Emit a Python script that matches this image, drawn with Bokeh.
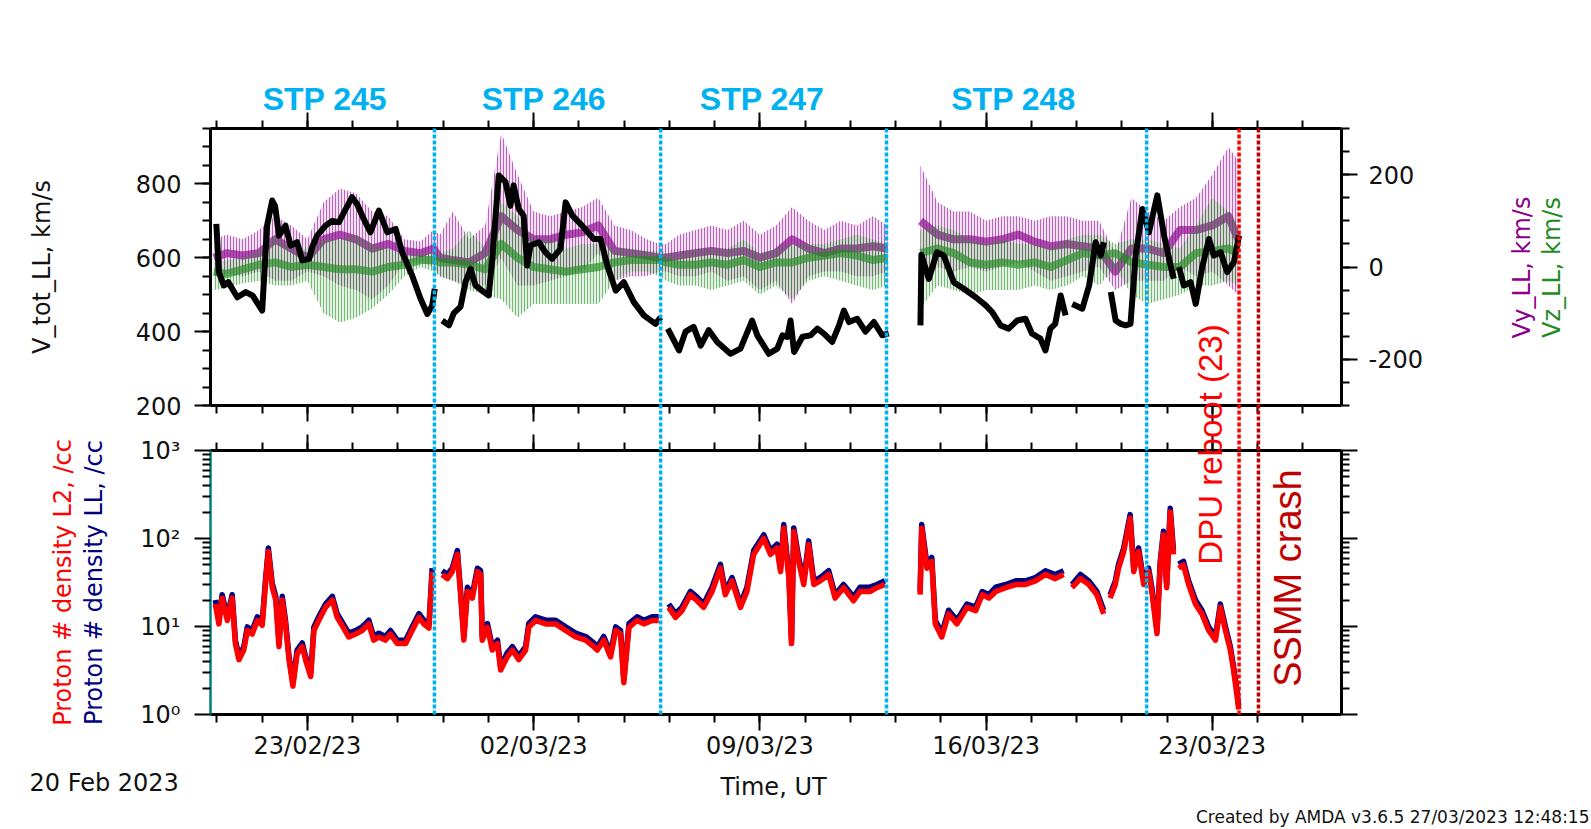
import math
from datetime import datetime, timezone
from bokeh.plotting import figure
from bokeh.layouts import column
from bokeh.models import (Range1d, LinearAxis, LogAxis, FixedTicker, Label, Title,
                          LogScale, CustomJSTickFormatter)
from bokeh.embed import file_html
from bokeh.resources import INLINE

nan = float("nan")

# ---------------- data ----------------
start_date = datetime(2023, 2, 20, tzinfo=timezone.utc)
span_days = 35

# V_tot (km/s), black
vtot_days = [0.18, 0.26, 0.41, 0.55, 0.83, 1.09, 1.3, 1.6, 1.75, 1.91,
             2.0, 2.12, 2.32, 2.48, 2.68, 2.84, 3.05, 3.15, 3.3, 3.56,
             3.77, 3.97, 4.13, 4.38, 4.54, 4.74, 4.95, 5.21, 5.47, 5.73,
             5.93, 6.24, 6.5, 6.71, 6.86, 6.94, 7.05, 7.17, 7.38, 7.53,
             7.74, 7.89, 8.05, 8.2, 8.46, 8.61, 8.72, 8.92, 9.13, 9.28,
             9.38, 9.54, 9.69, 9.8, 9.9, 10.16, 10.36, 10.57, 10.83, 10.99,
             11.2, 11.5, 11.86, 12.07, 12.28, 12.54, 12.79, 13.1, 13.41, 13.77,
             13.93, 14.04, 14.15, 14.5, 14.7, 14.95, 15.17, 15.42, 15.68, 16.09,
             16.4, 16.76, 16.92, 17.28, 17.54, 17.7, 17.85, 17.95, 18.06, 18.32,
             18.57, 18.78, 18.99, 19.24, 19.45, 19.6, 19.76, 20.01, 20.27, 20.53,
             20.79, 20.99, 21.5, 21.97, 22.0, 22.23, 22.48, 22.69, 23.0, 23.31,
             23.68, 23.99, 24.19, 24.45, 24.7, 24.96, 25.22, 25.42, 25.68, 25.84,
             25.99, 26.14, 26.31, 26.46, 26.56, 26.67, 26.98, 27.19, 27.39, 27.55,
             27.65, 27.75, 27.86, 28.01, 28.17, 28.32, 28.47, 28.63, 28.84, 29.04,
             29.3, 29.51, 29.71, 29.81, 29.89, 29.97, 30.12, 30.33, 30.49, 30.69,
             30.9, 31.05, 31.26, 31.46, 31.67, 31.83]
vtot = [692, 561, 525, 534, 493, 507, 498, 457, 687, 755,
        740, 660, 687, 633, 642, 593, 597, 630, 660, 687,
        700, 696, 723, 764, 745, 705, 669, 728, 669, 678,
        615, 552, 489, 448, 470, 516, nan, 430, 417, 450,
        468, 534, 570, 525, 507, 498, 597, 823, 805, 741,
        796, 732, 714, 579, 633, 642, 615, 597, 624, 750,
        714, 687, 651, 651, 579, 511, 534, 480, 444, 421,
        439, nan, 408, 349, 400, 413, 362, 404, 372, 340,
        354, 430, 390, 340, 354, 390, 386, 430, 345, 386,
        390, 408, 394, 372, 417, 457, 426, 435, 400, 426,
        390, 395, nan, 417, 608, 543, 615, 606, 534, 516,
        493, 471, 453, 417, 408, 430, 435, 395, 381, 349,
        408, 421, 498, 444, nan, 475, 462, 525, 642, 606,
        642, nan, 507, 430, 421, 417, 421, 606, 732, 669,
        769, 660, 579, 543, nan, 575, 525, 534, 475, 575,
        651, 606, 615, 561, 588, 660]

# Vy / Vz (km/s): dense core and extent of the scatter
vyz_days = [0.1, 0.5, 1.0, 1.5, 2.0, 2.5, 3.0, 3.5, 4.0, 4.5,
            5.0, 5.5, 6.0, 6.5, 6.9, 7.1, 7.5, 8.0, 8.5, 9.0,
            9.5, 10.0, 10.5, 11.0, 11.5, 12.0, 12.5, 13.0, 13.5, 13.9,
            14.1, 14.5, 15.0, 15.5, 16.0, 16.5, 17.0, 17.5, 18.0, 18.5,
            19.0, 19.5, 20.0, 20.5, 20.95, 21.4, 21.97, 22.5, 23.0, 23.5,
            24.0, 24.5, 25.0, 25.5, 26.0, 26.5, 27.0, 27.5, 28.0, 28.5,
            29.0, 29.5, 30.0, 30.5, 31.0, 31.5, 31.8]
vy_mid = [20, 30, 25, 30, 60, 40, 20, 60, 70, 60,
          40, 50, 35, 30, 40, 20, 15, 10, 30, 110,
          80, 60, 60, 70, 75, 90, 35, 30, 25, 20,
          20, 25, 30, 35, 30, 35, 20, 30, 60, 40,
          30, 40, 40, 45, 40, nan, 100, 70, 60, 60,
          55, 60, 70, 55, 45, 50, 45, 40, -10, 40,
          40, 30, 80, 80, 90, 110, 60]
vy_lo = [-20, -15, -20, -10, -30, -30, -10, -20, -40, -50,
         -70, -40, 10, 10, 0, -20, -30, -40, -40, 20,
         -40, -40, -30, -20, -10, 30, -30, -20, -20, -10,
         -10, -20, -20, -10, -30, -20, -50, -30, -80, -20,
         -10, -10, -20, -20, -10, nan, -40, 0, -10, 0,
         -10, 0, 10, -10, -30, -20, -10, 0, -50, -30,
         -30, -30, 0, -20, -10, -40, -60]
vy_hi = [60, 70, 60, 80, 110, 90, 60, 140, 170, 160,
         120, 110, 60, 55, 80, 70, 120, 60, 90, 290,
         200, 120, 110, 120, 130, 150, 90, 80, 60, 50,
         50, 70, 80, 90, 80, 100, 70, 90, 130, 100,
         80, 100, 90, 110, 90, nan, 220, 140, 120, 120,
         100, 110, 110, 100, 110, 110, 100, 100, 30, 150,
         120, 100, 130, 150, 200, 260, 230]
vz_mid = [-10, -15, -5, 5, 10, 0, 5, 0, -5, -5,
          -10, 0, 5, 15, 15, 10, 10, 5, -5, 50,
          20, 0, -5, -10, -5, 0, 10, 15, 15, 15,
          10, 5, 5, 10, 5, 15, 0, 10, 10, 20,
          25, 30, 25, 15, 20, nan, 30, 40, 30, 10,
          5, 10, 5, 10, 0, 15, 30, 25, 30, 10,
          5, 0, 0, 30, 35, 40, 30]
vz_lo = [-50, -45, -35, -30, -40, -40, -30, -100, -120, -110,
         -90, -60, -20, 0, -10, -20, -30, -50, -60, -70,
         -110, -80, -80, -80, -80, -80, -30, -10, -10, -20,
         -30, -40, -40, -50, -40, -30, -60, -40, -70, -30,
         -20, -30, -40, -50, -40, nan, -90, -40, -50, -60,
         -50, -50, -50, -40, -50, -40, -20, -40, 0, -60,
         -80, -70, -60, -40, -40, -30, -40]
vz_hi = [10, 15, 20, 35, 70, 40, 40, 60, 60, 70,
         50, 40, 25, 30, 30, 30, 40, 80, 40, 140,
         110, 60, 60, 40, 50, 50, 40, 40, 35, 35,
         30, 30, 40, 40, 40, 60, 30, 40, 50, 50,
         50, 60, 70, 60, 50, nan, 80, 90, 80, 60,
         50, 60, 50, 50, 40, 60, 70, 70, 50, 60,
         60, 50, 40, 90, 150, 120, 90]

# Proton density (/cc): L2 (red) and LL (navy)
dens_days = [0.15, 0.26, 0.36, 0.52, 0.67, 0.77, 0.88, 1.03, 1.14, 1.29,
             1.45, 1.6, 1.7, 1.79, 1.91, 2.02, 2.12, 2.22, 2.32, 2.43,
             2.55, 2.68, 2.84, 2.94, 3.1, 3.2, 3.35, 3.56, 3.77, 3.92,
             4.07, 4.28, 4.49, 4.69, 4.9, 5.05, 5.21, 5.41, 5.57, 5.78,
             6.04, 6.24, 6.45, 6.6, 6.76, 6.86, 7.0, 7.17, 7.33, 7.48,
             7.64, 7.74, 7.84, 7.95, 8.1, 8.26, 8.36, 8.41, 8.57, 8.72,
             8.88, 8.98, 9.18, 9.34, 9.54, 9.75, 9.85, 10.06, 10.37, 10.68,
             10.99, 11.3, 11.61, 11.86, 11.97, 12.17, 12.38, 12.54, 12.69, 12.79,
             12.95, 13.2, 13.41, 13.67, 13.87, 14.0, 14.18, 14.39, 14.59, 14.85,
             15.06, 15.26, 15.52, 15.78, 15.93, 16.14, 16.4, 16.6, 16.81, 17.12,
             17.33, 17.53, 17.64, 17.74, 17.9, 17.98, 18.05, 18.2, 18.36, 18.51,
             18.67, 18.87, 19.13, 19.33, 19.59, 19.9, 20.1, 20.41, 20.62, 20.87,
             21.4, 21.96, 22.01, 22.17, 22.32, 22.43, 22.63, 22.84, 23.1, 23.41,
             23.68, 23.88, 24.09, 24.3, 24.61, 24.92, 25.22, 25.53, 25.84, 26.14,
             26.4, 26.53, 26.66, 26.92, 27.18, 27.43, 27.64, 27.74, 27.84, 28.0,
             28.1, 28.26, 28.46, 28.57, 28.72, 28.88, 29.03, 29.13, 29.29, 29.39,
             29.49, 29.59, 29.7, 29.8, 29.88, 29.96, 30.11, 30.27, 30.48, 30.68,
             30.89, 31.1, 31.25, 31.41, 31.56, 31.66, 31.77, 31.82]
dens_l2 = [18, 10.7, 21, 11.7, 21, 6.4, 4.2, 5.4, 9.0, 8.2,
           11.7, 10.3, 30, 71, 28, 20, 5.9, 20, 10.7, 4.2,
           2.1, 4.9, 5.9, 4.2, 2.7, 9.0, 11.7, 16.5, 20, 12.7,
           10.3, 7.6, 8.2, 9.0, 10.7, 7.0, 7.6, 7.0, 8.2, 6.4,
           6.4, 9.0, 12.7, 10.7, 9.6, 42, nan, 39, 35, 42,
           66, 23, 7.0, 25, 21, 42, 39, 7.0, 9.8, 5.4,
           6.4, 3.2, 4.5, 5.4, 4.2, 5.4, 9.8, 11.7, 10.7, 10.7,
           9.0, 7.6, 7.0, 5.9, 5.4, 7.0, 4.5, 9.0, 8.2, 2.3,
           9.8, 11.7, 10.7, 11.7, 11.7, nan, 16.5, 12.7, 15.1, 23,
           19.6, 16.5, 25, 46, 23, 33, 16.5, 25, 66, 100,
           66, 78, 42, 131, 35, 6.4, 120, 55, 30, 85,
           30, 33, 39, 21, 27.6, 19.6, 25, 25, 27.6, 30,
           nan, 23, 131, 46, 55, 10.7, 7.6, 13.9, 10.7, 16.5,
           15.1, 23, 21, 25, 27.6, 30, 30, 33, 39, 35,
           39, nan, 27.6, 35, 30, 23, 13.9, nan, 21, 30,
           46, 71, 170, 42, 71, 30, 42, 25, 8.3, 50,
           110, 27.6, 200, 66, nan, 46, 50, 30, 18, 13.9,
           9.0, 7.0, 16.5, 9.0, 5.4, 3.2, 1.6, 1.14]
dens_ll = [20, 11.8, 23, 12.9, 23, 7.0, 4.6, 5.9, 9.9, 9.0,
           12.9, 11.3, 33, 78, 31, 22, 6.5, 22, 11.8, 4.6,
           2.3, 5.4, 6.5, 4.6, 3.0, 9.9, 12.9, 18, 22, 14,
           11.3, 8.4, 9.0, 9.9, 11.8, 7.7, 8.4, 7.7, 9.0, 7.0,
           7.0, 9.9, 14, 11.8, 10.6, 46, nan, 43, 39, 46,
           73, 25, 7.7, 28, 23, 46, 43, 7.7, 10.8, 5.9,
           7.0, 3.5, 5.0, 5.9, 4.6, 5.9, 10.8, 12.9, 11.8, 11.8,
           9.9, 8.4, 7.7, 6.5, 5.9, 7.7, 5.0, 9.9, 9.0, 2.5,
           10.8, 12.9, 11.8, 12.9, 12.9, nan, 18, 14, 16.6, 25,
           21.6, 18, 28, 51, 25, 36, 18, 28, 73, 110,
           73, 86, 46, 144, 39, 7.0, 132, 61, 33, 94,
           33, 36, 43, 23, 30, 21.6, 28, 28, 30, 33,
           nan, 25, 144, 51, 61, 11.8, 8.4, 15.3, 11.8, 18,
           16.6, 25, 23, 28, 30, 33, 33, 36, 43, 39,
           43, nan, 30, 39, 33, 25, 15.3, nan, 23, 33,
           51, 78, 187, 46, 78, 33, 46, 28, 9.1, 55,
           121, 30, 220, 73, nan, 51, 55, 33, 20, 15.3,
           9.9, 7.7, 18, 9.9, 5.9, 3.5, 1.8, 1.25]

# events / annotations
event_days = [6.93, 13.93, 20.92, 28.97, 31.83, 32.43]
event_colors = ["#00B0F0", "#00B0F0", "#00B0F0", "#00B0F0", "#FF0000", "#C00000"]
stp_labels = ["STP 245", "STP 246", "STP 247", "STP 248"]
stp_days = [3.54, 10.32, 17.07, 24.85]

# axis ticks
major_days = [3, 10, 17, 24, 31]
date_labels = ["23/02/23", "02/03/23", "09/03/23", "16/03/23", "23/03/23"]
minor_days = [0.2 + 1.4 * k for k in range(25)]
v_ticks = [200, 400, 600, 800]
v_minor = list(range(200, 951, 50))
vyz_ticks = [-200, 0, 200]
vyz_tick_labels = ["-200", "0", "200"]
vyz_minor = list(range(-300, 301, 50))
dens_ticks = [1, 10, 100, 1000]
dens_tick_labels = ["10\u2070", "10\u00b9", "10\u00b2", "10\u00b3"]
dens_minor = [m * 10 ** k for k in range(3) for m in range(2, 10)]

# ---------------- geometry / styles ----------------
W, H = 1591, 829
DAY = 86400000.0
T0 = start_date.timestamp() * 1000.0
T1 = T0 + span_days * DAY
def t_of(d):
    return T0 + d * DAY

FR_L, FR_R = 210.0, 1341.0
A_TOP, A_BOT = 128.0, 405.0
B_TOP, B_BOT = 450.0, 716.0
SPLIT = 428
V_MIN, V_MAX = 200.0, 950.0

def tx(px):
    return T0 + (px - FR_L) / (FR_R - FR_L) * span_days * DAY

PURPLE = "#8B008B"
GREEN = "#1E8C1E"
FONT = "DejaVu Sans"
INK = "#111111"

major_t = [t_of(d) for d in major_days]
minor_t = [t_of(d) for d in minor_days]

def style_axis(ax, standoff=13):
    ax.axis_line_width = 3
    ax.axis_line_color = "black"
    ax.major_tick_line_width = 2
    ax.minor_tick_line_width = 2
    ax.major_tick_line_color = "black"
    ax.minor_tick_line_color = "black"
    ax.major_tick_out = 16
    ax.major_tick_in = 0
    ax.minor_tick_out = 8
    ax.minor_tick_in = 0
    ax.major_label_text_font = FONT
    ax.major_label_text_font_size = "24px"
    ax.major_label_text_color = INK
    ax.major_label_standoff = standoff

def set_title(ax, text, color, standoff):
    ax.axis_label = text
    ax.axis_label_text_font = FONT
    ax.axis_label_text_font_size = "24px"
    ax.axis_label_text_font_style = "normal"
    ax.axis_label_text_color = color
    ax.axis_label_standoff = standoff

def blank(ax):
    ax.formatter = CustomJSTickFormatter(code="return ''")
    ax.major_label_text_font_size = "1px"
    ax.major_label_standoff = 0

def title_axis(text, color, standoff, **kw):
    ax = LinearAxis(ticker=FixedTicker(ticks=[]), **kw)
    ax.axis_line_color = None
    ax.major_tick_out = 0
    ax.minor_tick_out = 0
    ax.major_tick_in = 0
    ax.minor_tick_in = 0
    blank(ax)
    set_title(ax, text, color, standoff)
    return ax

def time_axis(labels):
    ax = LinearAxis(ticker=FixedTicker(ticks=major_t, minor_ticks=minor_t))
    style_axis(ax, standoff=1)
    if labels:
        ax.major_label_overrides = {t: s for t, s in zip(major_t, date_labels)}
    else:
        blank(ax)
    return ax

def split(days, *cols):
    segs, cur = [], []
    for i in range(len(days)):
        if any(math.isnan(c[i]) for c in cols):
            if cur:
                segs.append(cur)
            cur = []
        else:
            cur.append(i)
    if cur:
        segs.append(cur)
    return segs

def base_fig(height, top, bottom, y_range):
    f = figure(width=W, height=height, x_range=Range1d(T0, T1), y_range=y_range,
               x_axis_type=None, y_axis_type=None, title=None, toolbar_location=None,
               output_backend="svg", min_border_left=int(FR_L), min_border_right=int(W - FR_R),
               min_border_top=top, min_border_bottom=bottom)
    f.outline_line_color = None
    return f

# ---------------- overlay figure (created first to know its capabilities) ----------------
C = base_fig(H, 0, 0, Range1d(0, H))
C.background_fill_color = None
C.border_fill_color = None
C.margin = (-H, 0, 0, 0)
free_overlay = "frame_align" in C.properties()
if free_overlay:
    C.frame_align = False
    C.min_border_left = 0
    C.min_border_right = 0
    C.x_range = Range1d(tx(0), tx(W))

# ---------------- top panel ----------------
A = base_fig(SPLIT, int(A_TOP), int(SPLIT - A_BOT), Range1d(V_MIN, V_MAX))
A.extra_y_ranges = {"vyz": Range1d(-300, 300)}
A.background_fill_color = "white"
A.border_fill_color = "white"

axl = LinearAxis(ticker=FixedTicker(ticks=v_ticks, minor_ticks=v_minor))
style_axis(axl, 13)
set_title(axl, "V_tot_LL, km/s", INK, 77)
A.add_layout(axl, "left")
axr = LinearAxis(y_range_name="vyz", ticker=FixedTicker(ticks=vyz_ticks, minor_ticks=vyz_minor))
style_axis(axr, 11)
axr.major_label_overrides = {t: s for t, s in zip(vyz_ticks, vyz_tick_labels)}
A.add_layout(axr, "right")
if not free_overlay:
    set_title(axr, "Vy_LL, km/s", PURPLE, 84)
    A.add_layout(title_axis("Vz_LL, km/s", GREEN, 0, y_range_name="vyz"), "right")
A.add_layout(time_axis(False), "above")
A.add_layout(time_axis(False), "below")

vyz_t = [t_of(d) for d in vyz_days]
for color, lo, mid, hi in ((PURPLE, vy_lo, vy_mid, vy_hi), (GREEN, vz_lo, vz_mid, vz_hi)):
    for seg in split(vyz_days, lo, hi):
        A.varea(x=[vyz_t[i] for i in seg], y1=[lo[i] for i in seg], y2=[hi[i] for i in seg],
                y_range_name="vyz", fill_color=color, fill_alpha=0.12,
                hatch_pattern="|", hatch_color=color, hatch_alpha=0.55,
                hatch_scale=3, hatch_weight=1)
    A.line(vyz_t, mid, y_range_name="vyz", line_color=color, line_width=8, line_alpha=0.65,
           line_join="round")

A.line([t_of(d) for d in vtot_days], vtot, line_color="black", line_width=6, line_join="round")

# ---------------- bottom panel ----------------
B = base_fig(H - SPLIT, int(B_TOP - SPLIT), int(H - B_BOT), Range1d(1, 1000))
B.y_scale = LogScale()
B.background_fill_color = "white"
B.border_fill_color = "white"

bl = LogAxis(ticker=FixedTicker(ticks=dens_ticks, minor_ticks=dens_minor))
style_axis(bl, 14)
bl.axis_line_color = "#008080"
bl.axis_line_width = 2.5
bl.major_label_overrides = {t: s for t, s in zip(dens_ticks, dens_tick_labels)}
set_title(bl, "Proton # density LL, /cc", "#000080", 29)
B.add_layout(bl, "left")
B.add_layout(title_axis("Proton # density L2, /cc", "#FF0000", 1), "left")
br = LogAxis(ticker=FixedTicker(ticks=dens_ticks, minor_ticks=dens_minor))
style_axis(br, 0)
blank(br)
B.add_layout(br, "right")
B.add_layout(time_axis(False), "above")
B.add_layout(time_axis(True), "below")
B.add_layout(Title(text="20 Feb 2023", align="left", offset=29 - FR_L, standoff=9,
                   text_font=FONT, text_font_size="24px", text_font_style="normal",
                   text_color=INK), "below")
B.add_layout(Title(text="Created by AMDA v3.6.5 27/03/2023 12:48:15", align="right",
                   offset=FR_R - 1589, standoff=6, text_font=FONT, text_font_size="17px",
                   text_font_style="normal", text_color=INK), "below")

dens_t = [t_of(d) for d in dens_days]
B.line(dens_t, dens_ll, line_color="#000080", line_width=5.5, line_join="round")
B.line(dens_t, dens_l2, line_color="#FF0000", line_width=5.5, line_join="round")

# ---------------- overlay content: event lines and free texts ----------------
def py(v):
    return H - v

C.segment(x0=[t_of(d) for d in event_days], y0=[py(A_TOP)] * len(event_days),
          x1=[t_of(d) for d in event_days], y1=[py(B_BOT)] * len(event_days),
          line_color=event_colors, line_width=3.5, line_dash="4 2")

for d, s in zip(stp_days, stp_labels):
    C.add_layout(Label(x=t_of(d), y=py(98.5), text=s, text_font="Liberation Sans",
                       text_font_style="bold", text_font_size="32px", text_color="#00B0F0",
                       text_align="center", text_baseline="middle"))

def vtext(px, ypx, text, color, size, font):
    C.add_layout(Label(x=tx(px), y=py(ypx), text=text, angle=math.pi / 2,
                       text_font=font, text_font_size=size, text_color=color,
                       text_align="center", text_baseline="middle"))

vtext(1210, 444, "DPU reboot (23)", "#FF0000", "33px", "Liberation Sans")
vtext(1287, 577.5, "SSMM crash", "#C00000", "38px", "Liberation Sans")
if free_overlay:
    vtext(1521, 267, "Vy_LL, km/s", PURPLE, "24px", FONT)
    vtext(1551, 267, "Vz_LL, km/s", GREEN, "24px", FONT)
C.add_layout(Label(x=tx(773), y=py(786), text="Time, UT", text_font=FONT,
                   text_font_size="24px", text_color=INK, text_align="center",
                   text_baseline="middle"))

layout = column(A, B, C, spacing=0)
open("out.html", "w").write(file_html(layout, INLINE))
